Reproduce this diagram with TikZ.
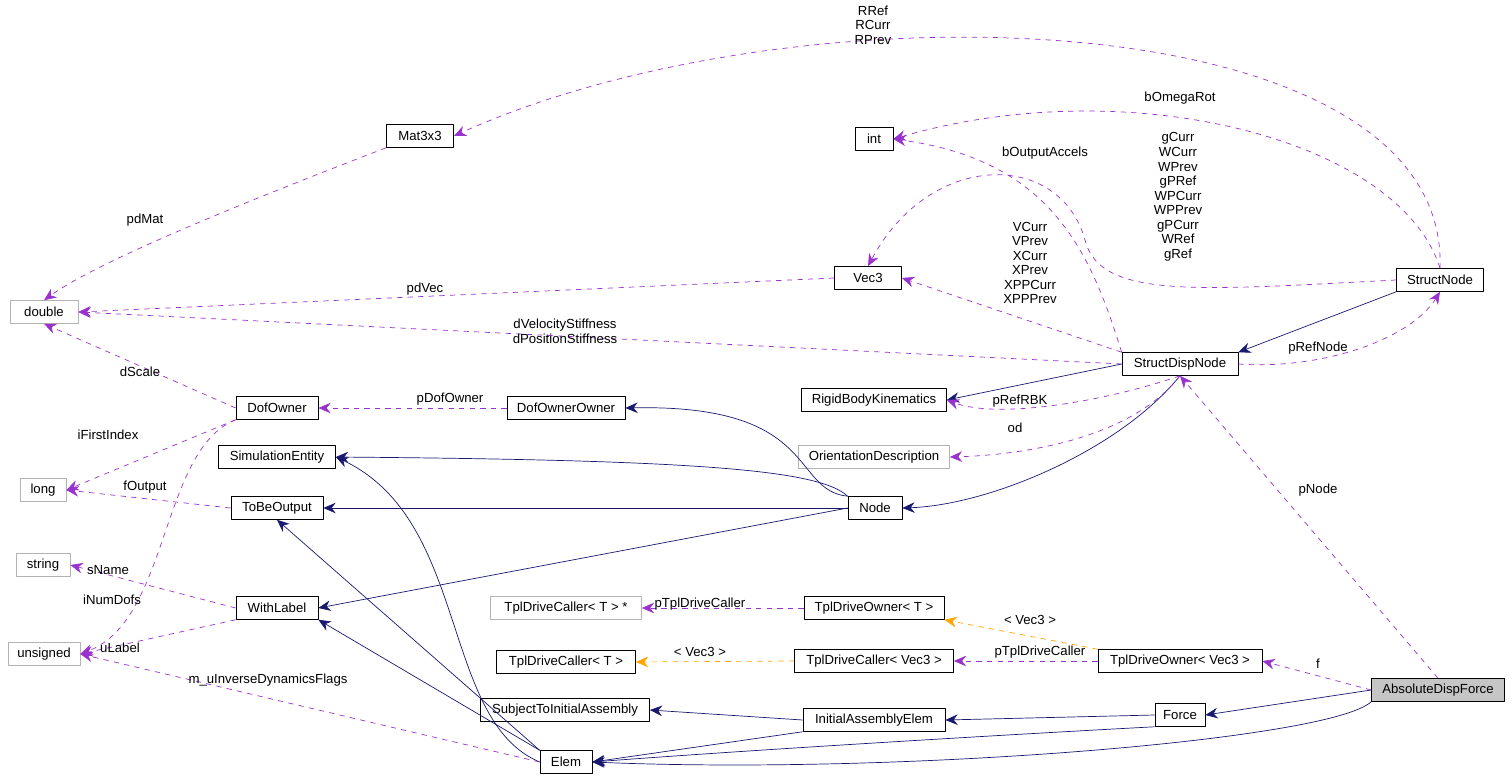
\documentclass[tikz,border=0pt]{standalone}
\usepackage{fontspec}
\setmainfont{Liberation Sans}
\usetikzlibrary{arrows.meta}
\definecolor{inh}{HTML}{191970}
\definecolor{use}{HTML}{9A32CD}
\definecolor{tpl}{HTML}{FFA500}
\tikzset{
  cls/.style={draw=black, fill=white, inner sep=0pt, minimum height=13pt, font=\fontsize{7.5}{8.3}\selectfont},
  ext/.style={cls, draw=gray!60},
  cur/.style={cls, fill=gray!45},
  lbl/.style={font=\fontsize{7.5}{8.3}\selectfont, align=center, inner sep=0pt},
  isa/.style={draw=inh, -{Stealth[length=7pt,width=6pt]}},
  has/.style={draw=use, dashed, -{Stealth[length=7pt,width=6pt]}},
  tmpl/.style={draw=tpl, dashed, -{Stealth[length=7pt,width=6pt]}}
}
\begin{document}
\begin{tikzpicture}[x=0.02cm, y=-0.02cm, line join=round]
\useasboundingbox (0,0) rectangle (1512,781);

% classes
\node[cur, minimum width=133*0.02cm] (adf) at (1438,690) {AbsoluteDispForce};
\node[cls, minimum width=50*0.02cm] (force) at (1180,715) {Force};
\node[cls, minimum width=52*0.02cm] (elem) at (566,762) {Elem};
\node[cls, minimum width=142*0.02cm] (iae) at (874,720) {InitialAssemblyElem};
\node[cls, minimum width=169*0.02cm] (stia) at (565,710) {SubjectToInitialAssembly};
\node[cls, minimum width=164*0.02cm] (tdov) at (1180,661) {TplDriveOwner< Vec3 >};
\node[cls, minimum width=159*0.02cm] (tdcv) at (874,661) {TplDriveCaller< Vec3 >};
\node[cls, minimum width=139*0.02cm] (tdct) at (566,662) {TplDriveCaller< T >};
\node[cls, minimum width=140*0.02cm] (tdot) at (874,608) {TplDriveOwner< T >};
\node[ext, minimum width=151*0.02cm] (tdcp) at (566,608) {TplDriveCaller< T > *};
\node[ext, minimum width=72*0.02cm] (uns) at (44,654) {unsigned};
\node[ext, minimum width=54*0.02cm] (str) at (43,565) {string};
\node[cls, minimum width=82*0.02cm] (wl) at (277,608) {WithLabel};
\node[cls, minimum width=92*0.02cm] (tbo) at (277,508) {ToBeOutput};
\node[ext, minimum width=46*0.02cm] (lng) at (43,490) {long};
\node[cls, minimum width=117*0.02cm] (se) at (277,457) {SimulationEntity};
\node[cls, minimum width=82*0.02cm] (dof) at (277,408) {DofOwner};
\node[cls, minimum width=118*0.02cm] (doo) at (566,408) {DofOwnerOwner};
\node[cls, minimum width=54*0.02cm] (node) at (875,508) {Node};
\node[ext, minimum width=151*0.02cm] (od) at (874,457) {OrientationDescription};
\node[cls, minimum width=145*0.02cm] (rbk) at (874,400) {RigidBodyKinematics};
\node[cls, minimum width=116*0.02cm] (sdn) at (1180,364) {StructDispNode};
\node[cls, minimum width=87*0.02cm] (sn) at (1440,280) {StructNode};
\node[ext, minimum width=68*0.02cm] (dbl) at (44,312) {double};
\node[cls, minimum width=67*0.02cm] (vec) at (868,278) {Vec3};
\node[cls, minimum width=38*0.02cm] (int) at (874,139) {int};
\node[cls, minimum width=67*0.02cm] (mat) at (420,136) {Mat3x3};

% inheritance
\draw[isa] (adf.west) -- (force.east);
\draw[isa] (force.west) -- (iae.east);
\draw[isa] (iae.west) -- (stia.east);
\draw[isa] (iae.south west) -- (elem.east);
\draw[isa] (force.south west) .. controls (1000,735) and (750,750) .. (elem.east);
\draw[isa] (adf.south west) .. controls (1330,740) and (900,775) .. (elem.east);
\draw[isa] (elem.north west) -- (wl.south east);
\draw[isa] (elem.north west) -- (tbo.south);
\draw[isa] (elem.west) .. controls (440,720) and (470,520) .. (se.east);
\draw[isa] (node.west) -- (wl.east);
\draw[isa] (node.west) -- (tbo.east);
\draw[isa] (node.north west) .. controls (820,470) and (700,460) .. (se.east);
\draw[isa] (node.north west) .. controls (790,490) and (820,404) .. (doo.east);
\draw[isa] (sdn.south) .. controls (1120,450) and (990,505) .. (node.east);
\draw[isa] (sdn.west) -- (rbk.east);
\draw[isa] (sn.south west) -- (sdn.north east);

% usage
\draw[has] (adf.north) -- (sdn.south);
\draw[has] (adf.west) -- (tdov.east);
\draw[has] (tdov.west) -- (tdcv.east);
\draw[has] (tdot.west) -- (tdcp.east);
\draw[has] (elem.west) -- (uns.east);
\draw[has] (wl.south west) -- (uns.east);
\draw[has] (wl.west) -- (str.east);
\draw[has] (dof.south west) .. controls (160,450) and (170,620) .. (uns.east);
\draw[has] (tbo.west) -- (lng.east);
\draw[has] (dof.south west) -- (lng.east);
\draw[has] (dof.west) -- (dbl.south);
\draw[has] (doo.west) -- (dof.east);
\draw[has] (sdn.south) .. controls (1130,440) and (1020,455) .. (od.east);
\draw[has] (sdn.south) .. controls (1110,400) and (1000,420) .. (rbk.east);
\draw[has] (sdn.east) .. controls (1320,370) and (1410,340) .. (sn.south);
\draw[has] (sdn.west) -- (dbl.east);
\draw[has] (sdn.north west) -- (vec.east);
\draw[has] (sdn.north west) .. controls (1090,250) and (1050,160) .. (int.east);
\draw[has] (sn.west) .. controls (1200,290) and (1100,300) .. (1085,240) .. controls (1060,150) and (930,150) .. (vec.north);
\draw[has] (sn.north) .. controls (1400,140) and (1130,70) .. (int.east);
\draw[has] (sn.north) .. controls (1450,0) and (800,-20) .. (mat.east);
\draw[has] (vec.west) -- (dbl.east);
\draw[has] (mat.south west) .. controls (250,200) and (100,260) .. (dbl.north);

% template instances
\draw[tmpl] (tdov.north west) -- (tdot.south east);
\draw[tmpl] (tdcv.west) -- (tdct.east);

% labels
\node[lbl] (l1) at (1318,490) {pNode};
\node[lbl] (l2) at (1318,664) {f};
\node[lbl] (l3) at (1040,652) {pTplDriveCaller};
\node[lbl] (l4) at (700,604) {pTplDriveCaller};
\node[lbl] (l5) at (700,652) {< Vec3 >};
\node[lbl] (l6) at (1030,620) {< Vec3 >};
\node[lbl] (l7) at (268,680) {m\_uInverseDynamicsFlags};
\node[lbl] (l8) at (120,648) {uLabel};
\node[lbl] (l9) at (108,570) {sName};
\node[lbl] (l10) at (112,600) {iNumDofs};
\node[lbl] (l11) at (145,487) {fOutput};
\node[lbl] (l12) at (108,435) {iFirstIndex};
\node[lbl] (l13) at (140,372) {dScale};
\node[lbl] (l14) at (450,399) {pDofOwner};
\node[lbl] (l15) at (1015,428) {od};
\node[lbl] (l16) at (1020,401) {pRefRBK};
\node[lbl] (l17) at (1318,348) {pRefNode};
\node[lbl] (l18) at (565,331) {dVelocityStiffness\\dPositionStiffness};
\node[lbl] (l19) at (425,289) {pdVec};
\node[lbl] (l20) at (145,220) {pdMat};
\node[lbl] (l21) at (1030,263) {VCurr\\VPrev\\XCurr\\XPrev\\XPPCurr\\XPPPrev};
\node[lbl] (l22) at (1045,153) {bOutputAccels};
\node[lbl] (l23) at (1178,197) {gCurr\\WCurr\\WPrev\\gPRef\\WPCurr\\WPPrev\\gPCurr\\WRef\\gRef};
\node[lbl] (l24) at (1180,98) {bOmegaRot};
\node[lbl] (l25) at (873,25) {RRef\\RCurr\\RPrev};
\end{tikzpicture}
\end{document}
